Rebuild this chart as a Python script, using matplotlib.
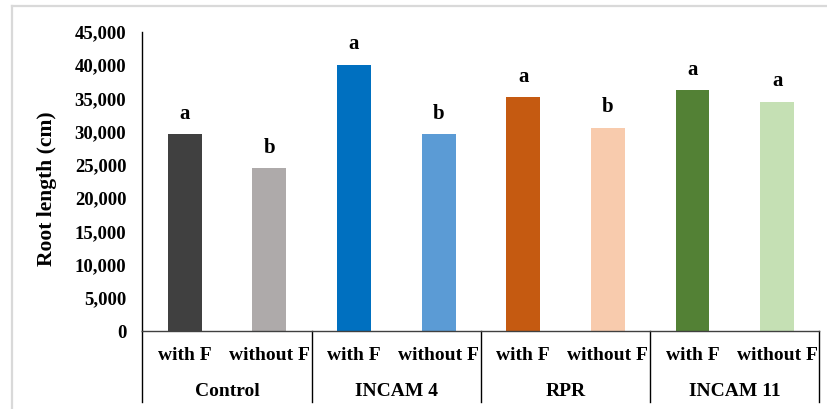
import numpy as np
import matplotlib
matplotlib.use("Agg")
import matplotlib.pyplot as plt
from matplotlib.lines import Line2D
from matplotlib.ticker import FuncFormatter

plt.rcParams['font.family'] = ['Liberation Serif', 'DejaVu Serif']
plt.rcParams['font.weight'] = 'bold'

# data
groups = ['Control', 'INCAM 4', 'RPR', 'INCAM 11']
treatments = ['with F', 'without F']
root_length = [29650, 24550, 40100, 29600, 35200, 30600, 36200, 34500]
letters = ['a', 'b', 'a', 'b', 'a', 'b', 'a', 'a']
colors = ['#404040', '#AEAAAA', '#0070C0', '#5B9BD5',
          '#C55A11', '#F8CBAD', '#538135', '#C5E0B4']

W, H = 828, 409
fig = plt.figure(figsize=(W / 100, H / 100), dpi=100)
ax = fig.add_axes([142.3 / W, 1 - 331 / H, (819.5 - 142.3) / W, (331 - 32) / H])

x = np.arange(len(root_length))
ax.bar(x, root_length, width=0.4, color=colors, zorder=2)
ax.set_xlim(-0.5, len(x) - 0.5)
ax.set_ylim(0, 45000)
ax.set_yticks(np.arange(0, 45001, 5000))
ax.yaxis.set_major_formatter(FuncFormatter(lambda v, p: f'{v:,.0f}'))
ax.tick_params(axis='y', length=0, pad=11.5, labelsize=13.5)
ax.set_xticks([])

for s in ['top', 'right']:
    ax.spines[s].set_visible(False)
ax.spines['left'].set_color('black')
ax.spines['left'].set_linewidth(1.0)
ax.spines['bottom'].set_color('#404040')
ax.spines['bottom'].set_linewidth(1.0)

# significance letters
for xi, v, l in zip(x, root_length, letters):
    ax.annotate(l, xy=(xi, v), xytext=(0, 11), textcoords='offset points',
                ha='center', va='baseline', fontsize=15)

# two-level category axis
for xi in x:
    ax.annotate(treatments[xi % 2], xy=(xi, 0), xycoords=('data', 'axes fraction'),
                xytext=(0, -17.5), textcoords='offset points',
                ha='center', va='center', fontsize=14)
for gi, g in enumerate(groups):
    ax.annotate(g, xy=(2 * gi + 0.5, 0), xycoords=('data', 'axes fraction'),
                xytext=(0, -43.5), textcoords='offset points',
                ha='center', va='center', fontsize=14)
for sx in np.arange(-0.5, len(x), 2):
    ax.plot([sx, sx], [0, -71 / 299], transform=ax.get_xaxis_transform(),
            color='black', lw=1.0, clip_on=False)

fig.text(47 / W, 1 - 189 / H, 'Root length (cm)', rotation=90,
         ha='center', va='center', fontsize=15.5)

# light frame of the chart area
fig.add_artist(Line2D([12 / W, 1], [1 - 6 / H, 1 - 6 / H], color='#d9d9d9', lw=1.6))
fig.add_artist(Line2D([12 / W, 12 / W], [0, 1 - 6 / H], color='#d9d9d9', lw=1.6))

fig.savefig('out.png', dpi=100)
